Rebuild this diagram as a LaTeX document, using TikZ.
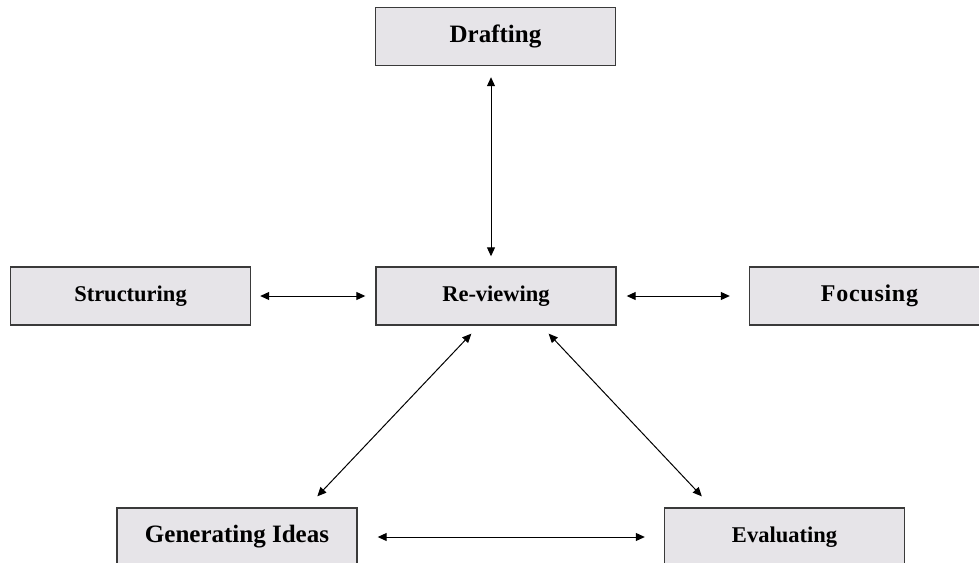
\documentclass[tikz,border=0pt]{standalone}
\usepackage{fontspec}
\setmainfont{Liberation Serif}
\usetikzlibrary{arrows.meta,calc}
\definecolor{boxfill}{HTML}{E6E4E8}
\definecolor{boxline}{HTML}{3A3A3A}
\tikzset{
  stepbox/.style={draw=boxline, line width=1.4pt, fill=boxfill, minimum width=240pt, minimum height=58pt, inner sep=0pt, font=\bfseries},
  link/.style={line width=1pt, {Triangle[length=9pt,width=8pt]}-{Triangle[length=9pt,width=8pt]}}
}
\begin{document}
\begin{tikzpicture}[x=1pt,y=-1pt]
\useasboundingbox (0,0) rectangle (979,562);
\fill[white] (0,0) rectangle (979,562);
\clip (0,0) rectangle (979,562);
\node[stepbox, font=\bfseries\fontsize{25}{30}\selectfont] (dr) at (495.5,36.5) {Drafting};
\node[stepbox, font=\bfseries\fontsize{22.5}{27}\selectfont] (st) at (130.5,296) {Structuring};
\node[stepbox, font=\bfseries\fontsize{22.5}{27}\selectfont] (rv) at (496,296) {Re-viewing};
\node[stepbox, font=\bfseries\fontsize{24}{29}\selectfont] (fo) at (869.5,296) {\addfontfeatures{LetterSpace=3}Focusing};
\node[stepbox, font=\bfseries\fontsize{25}{30}\selectfont] (gi) at (237,537) {Generating Ideas};
\node[stepbox, font=\bfseries\fontsize{22.5}{27}\selectfont] (ev) at (784.5,537) {Evaluating};
% tips of the diagonal connectors
\coordinate (rvl) at ($(rv.south west)+(96,8)$);
\coordinate (rvr) at ($(rv.south east)+(-68,8)$);
\coordinate (gil) at ($(gi.north west)+(201,-11)$);
\coordinate (evr) at ($(ev.north west)+(38,-11)$);
\draw[link, shorten <=11pt, shorten >=10pt] ($(dr.south)+(-4.5,0)$) -- ($(rv.north)+(-5,0)$);
\draw[link, shorten <=9pt, shorten >=10pt] (st.east) -- (rv.west);
\draw[link, shorten <=10pt, shorten >=19pt] (rv.east) -- (fo.west);
\draw[link, shorten <=20pt, shorten >=19pt] (gi.east) -- (ev.west);
\draw[link] (rvl) -- (gil);
\draw[link] (rvr) -- (evr);
\end{tikzpicture}
\end{document}
